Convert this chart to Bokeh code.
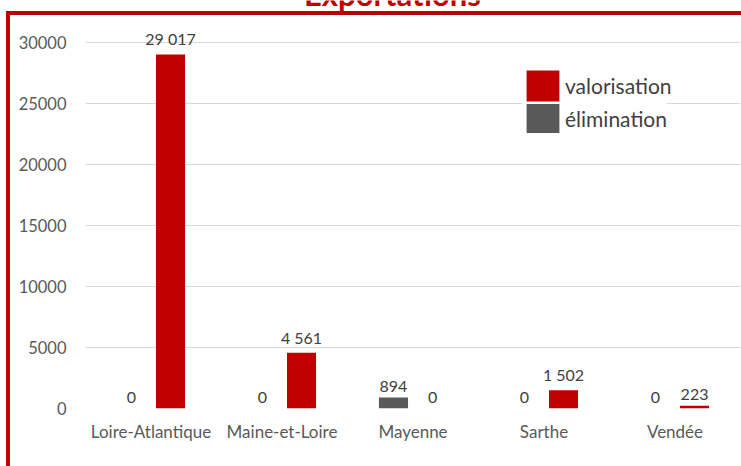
from bokeh.plotting import figure
from bokeh.models import (ColumnDataSource, FactorRange, Range1d, FixedTicker, Legend, LegendItem,
                          Label, NumeralTickFormatter)
from bokeh.transform import dodge
from bokeh.core.properties import value
from bokeh.embed import file_html
from bokeh.resources import INLINE

departements = ["Loire-Atlantique", "Maine-et-Loire", "Mayenne", "Sarthe", "Vendée"]
elimination = [0, 0, 894, 0, 0]
valorisation = [29017, 4561, 0, 1502, 223]
y_ticks = [0, 5000, 10000, 15000, 20000, 25000, 30000]
title_text = "Exportations"

RED = "#C00000"
GRAY = "#595959"
TXT = "#595959"
FONT = "Lato"

def fmt(v):
    return f"{v:,}".replace(",", " ")

src = ColumnDataSource(dict(
    dep=departements,
    elim=elimination,
    valo=valorisation,
    elim_lbl=[fmt(v) for v in elimination],
    valo_lbl=[fmt(v) for v in valorisation],
))

p = figure(width=741, height=466, x_range=FactorRange(*departements),
           y_range=Range1d(0, 33440), output_backend="svg", toolbar_location=None,
           min_border_left=85, min_border_right=1, min_border_top=0, min_border_bottom=58)
p.styles = {"background": "linear-gradient(#C00000,#C00000) 6px 10.5px / 100% 4px no-repeat, "
                          "linear-gradient(#C00000,#C00000) 6px 10.5px / 4px 100% no-repeat"}
p.border_fill_color = None
p.outline_line_color = None
p.background_fill_color = None

off = 0.149
bw = 0.222
r_elim = p.vbar(x=dodge("dep", -off, range=p.x_range), top="elim", width=bw, source=src,
                fill_color=GRAY, line_color=None)
r_valo = p.vbar(x=dodge("dep", off, range=p.x_range), top="valo", width=bw, source=src,
                fill_color=RED, line_color=None)

p.text(x=dodge("dep", -off, range=p.x_range), y="elim", text="elim_lbl", source=src,
       text_align="center", text_baseline="bottom", y_offset=-6,
       text_font=value(FONT), text_font_size="16px", text_color="#404040")
p.text(x=dodge("dep", off, range=p.x_range), y="valo", text="valo_lbl", source=src,
       text_align="center", text_baseline="bottom", y_offset=-6,
       text_font=value(FONT), text_font_size="16px", text_color="#404040")

p.yaxis.ticker = FixedTicker(ticks=y_ticks)
p.yaxis.formatter = NumeralTickFormatter(format="0")
p.yaxis.axis_line_color = None
p.yaxis.major_tick_line_color = None
p.yaxis.minor_tick_line_color = None
p.yaxis.major_tick_out = 0
p.yaxis.minor_tick_out = 0
p.yaxis.major_label_text_font = FONT
p.yaxis.major_label_text_font_size = "16.5px"
p.yaxis.major_label_text_color = TXT
p.yaxis.major_label_standoff = 19

p.xaxis.axis_line_color = None
p.xaxis.major_tick_line_color = None
p.xaxis.minor_tick_line_color = None
p.xaxis.major_tick_out = 0
p.xaxis.minor_tick_out = 0
p.xaxis.major_label_text_font = FONT
p.xaxis.major_label_text_font_size = "17px"
p.xaxis.major_label_text_color = TXT
p.xaxis.major_label_standoff = 12

p.xgrid.grid_line_color = None
p.ygrid.grid_line_color = "#D9D9D9"
p.ygrid.grid_line_width = 1.2
p.ygrid.ticker = FixedTicker(ticks=y_ticks)

common = dict(label_standoff=2, label_text_font=FONT, label_text_font_size="21px",
              label_text_color="#404040", border_line_color=None, margin=0,
              glyph_width=41, spacing=0, padding=0)
legend_elim = Legend(items=[LegendItem(label="élimination", renderers=[r_elim])],
                     location=(437, 272), glyph_height=36,
                     background_fill_color="white", background_fill_alpha=1.0, **common)
legend_valo = Legend(items=[LegendItem(label="valorisation", renderers=[r_valo])],
                     location=(437, 303), glyph_height=39,
                     background_fill_alpha=0.0, **common)
p.add_layout(legend_elim)
p.add_layout(legend_valo)

p.add_layout(Label(x=307, y=415, x_units="screen", y_units="screen", text=title_text,
                   text_align="center", text_baseline="alphabetic", text_font=FONT,
                   text_font_style="bold", text_font_size="31px", text_color=RED))

open("out.html", "w").write(file_html(p, INLINE))
